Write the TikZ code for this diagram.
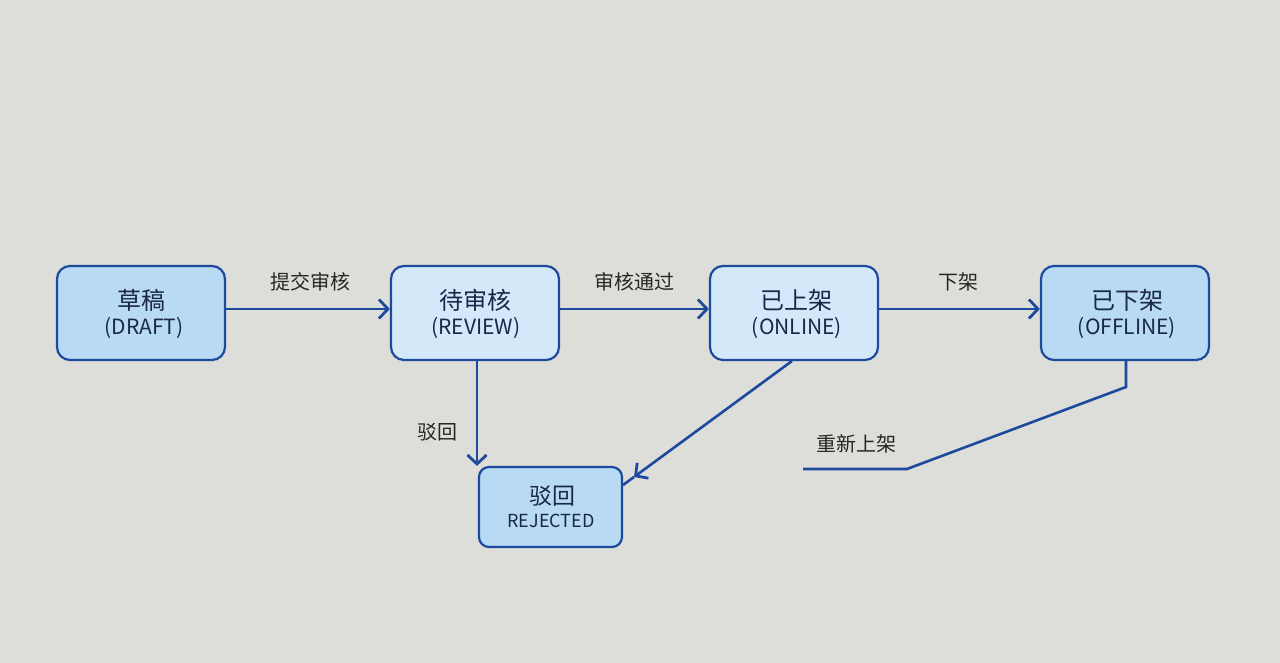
\documentclass[tikz,border=0pt]{standalone}
\usepackage{fontspec}
\setmainfont{Noto Sans CJK SC}
\usetikzlibrary{arrows.meta,positioning}
\definecolor{bgc}{HTML}{DDDDD9}
\definecolor{edgec}{HTML}{1D4A9C}
\definecolor{fillA}{HTML}{B8DAF4}
\definecolor{fillB}{HTML}{D3E8F8}
\definecolor{txtc}{HTML}{1A2748}
\tikzset{
  state/.style={draw=edgec, line width=2.2pt, rounded corners=13pt, minimum width=168pt, minimum height=94pt, inner sep=0pt},
  zh/.style={text=txtc, font=\fontsize{24}{26}\selectfont, inner sep=0pt},
  en/.style={text=txtc, font=\fontsize{21}{23}\selectfont, inner sep=0pt},
  conn/.style={draw=edgec, line width=2.6pt},
  arr/.style={conn, -{Straight Barb[length=9pt,width=19pt,line width=2.8pt]}},
  lbl/.style={text=black!85, font=\fontsize{20}{22}\selectfont, inner sep=0pt},
}
\begin{document}
\begin{tikzpicture}[x=1pt,y=1pt]
\fill[bgc] (0,0) rectangle (1280,663);
\useasboundingbox (0,0) rectangle (1280,663);
\node[state, fill=fillA] (draft) at (141,350) {};
\node[state, fill=fillB] (review) at (475,350) {};
\node[state, fill=fillB] (online) at (794,350) {};
\node[state, fill=fillA] (offline) at (1125,350) {};
\node[state, fill=fillA, minimum width=143pt, minimum height=80pt, rounded corners=10pt] (rejected) at (550.5,156) {};
\node[zh] (draftZ) at (141,363) {草稿};
\node[en] (draftE) at (144,335) {(DRAFT)};
\node[zh] (reviewZ) at (475,363) {待审核};
\node[en] (reviewE) at (476,335) {(REVIEW)};
\node[zh] (onlineZ) at (796,363) {已上架};
\node[en] (onlineE) at (797,335) {(ONLINE)};
\node[zh] (offlineZ) at (1127,363) {已下架};
\node[en] (offlineE) at (1127,335) {(OFFLINE)};
\node[zh, font=\fontsize{23}{25}\selectfont] (rejZ) at (552,167) {驳回};
\node[en, font=\fontsize{18}{20}\selectfont] (rejE) at (551,142) {REJECTED};
% horizontal transitions
\draw[arr] (draft.east |- 0,354) -- (review.west |- 0,354);
\draw[arr] (review.east |- 0,354) -- (online.west |- 0,354);
\draw[arr] (online.east |- 0,354) -- (offline.west |- 0,354);
\node[lbl] (l1) at (310,381) {提交审核};
\node[lbl] (l2) at (634,381) {审核通过};
\node[lbl] (l3) at (958,381) {下架};
% reject from review
\draw[arr] (review.south -| 477,0) -- (rejected.north -| 477,0);
\node[lbl] (l4) at (437,231) {驳回};
% reject from online
\coordinate (tip) at (634,186);
\draw[arr] (792,302) -- (tip);
\draw[conn] (tip) -- (623,178);
% re-online
\coordinate (b1) at (1126,276);
\coordinate (b2) at (907,194);
\coordinate (b3) at (803,194);
\draw[conn] (offline.south -| 1126,0) -- (b1) -- (b2) -- (b3);
\node[lbl] (l5) at (856,219) {重新上架};
\end{tikzpicture}
\end{document}
